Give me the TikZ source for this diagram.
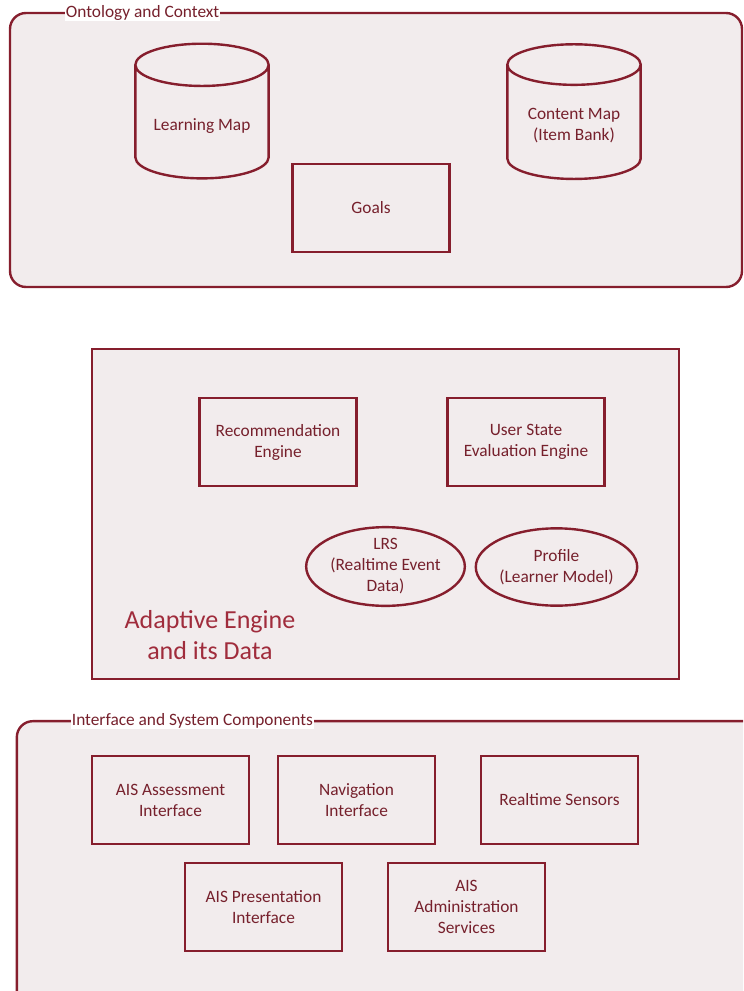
\documentclass[tikz,border=0pt]{standalone}
\usepackage{fontspec}
\setmainfont{Carlito}
\usetikzlibrary{shapes.geometric, positioning}

\definecolor{wine}{RGB}{134,30,45}
\definecolor{winetext}{RGB}{118,32,44}
\definecolor{titlered}{RGB}{160,44,60}
\definecolor{paper}{RGB}{242,236,237}

\begin{document}
\begin{tikzpicture}
[x=0.75pt, y=-0.75pt,
 font=\fontsize{13pt}{15.75pt}\selectfont,
 every node/.style={text=winetext, align=center},
 box/.style={draw=wine, line width=1.8pt, fill=paper,
   minimum width=118pt, minimum height=66pt},
 oval/.style={ellipse, draw=wine, line width=1.8pt, fill=paper,
   minimum width=119pt, minimum height=58pt, inner sep=0pt},
 store/.style={cylinder, shape border rotate=90, aspect=0.4,
   draw=wine, line width=1.8pt, fill=paper,
   minimum width=100pt, minimum height=101pt},
 group/.style={draw=wine, line width=1.8pt, fill=paper},
 grouplabel/.style={fill=white, inner sep=0.5pt, anchor=west},
]
\useasboundingbox (0,0) rectangle (743,991);
\clip (0,0) rectangle (743,991);

% ontology and context
\node[group, rounded corners=12pt, minimum width=549pt, minimum height=205.5pt]
  (ontology) at (376,150) {};
\node[grouplabel] (ontologylabel) at (65,13) {Ontology and Context};
\node[store] (learningmap) at (202,126) {Learning Map};
\node[store] (contentmap) at (574,126) {Content Map\\(Item Bank)};
\node[box] (goals) at (371,208) {Goals};

% adaptive engine
\node[group, minimum width=440pt, minimum height=247.5pt]
  (engine) at (385.5,514) {};
\node[box] (recommend) at (278,442) {Recommendation\\Engine};
\node[box] (userstate) at (526,442) {User State\\Evaluation Engine};
\node[oval] (lrs) at (385.5,566.5) {LRS\\(Realtime Event\\Data)};
\node[oval] (profile) at (556.5,567) {Profile\\(Learner Model)};
\node[text=titlered, font=\fontsize{19.5pt}{23.25pt}\selectfont]
  (enginetitle) at (210,635) {Adaptive Engine\\and its Data};

% interface and system components
\node[group, rounded corners=12pt, minimum width=565pt, minimum height=224pt]
  (interface) at (393.5,870.5) {};
\node[grouplabel] (interfacelabel) at (71,721) {Interface and System Components};
\node[box] (assessment) at (170.5,800) {AIS Assessment\\Interface};
\node[box] (navigation) at (356.5,800) {Navigation\\Interface};
\node[box] (sensors) at (559.5,800) {Realtime Sensors};
\node[box] (presentation) at (263.5,907) {AIS Presentation\\Interface};
\node[box] (administration) at (466.5,907) {AIS\\Administration\\Services};
\end{tikzpicture}
\end{document}
